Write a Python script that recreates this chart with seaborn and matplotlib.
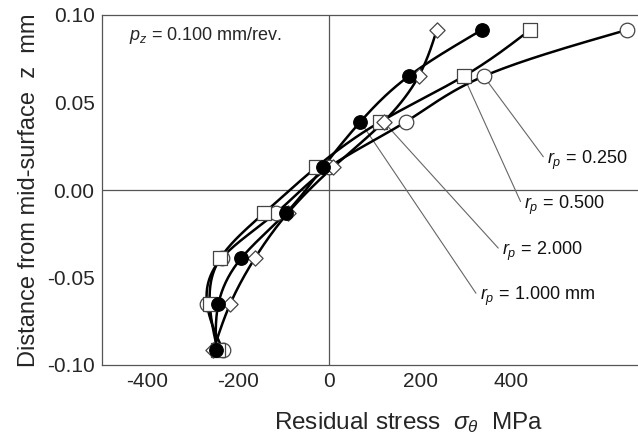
# RESIDUAL STRESS PROFILES THROUGH THE THICKNESS

import numpy as np
import pandas as pd
import matplotlib
matplotlib.use('Agg')
import matplotlib.pyplot as plt
import seaborn as sns


# DATA

z_levels = [-0.0915, -0.065, -0.039, -0.013, 0.013, 0.039, 0.065, 0.0915]

stress_r0250 = [-233, -268, -236, -116, 0, 169, 340, 655]
stress_r0500 = [-245, -262, -239, -142, -28, 113, 296, 442]
stress_r1000 = [-248, -243, -193, -94, -13, 69, 175, 336]
stress_r2000 = [-254, -217, -163, -90, 9, 120, 197, 237]

series_names = ['0.250', '0.500', '1.000', '2.000']
label_texts = ['$r_p$ = 0.250', '$r_p$ = 0.500', '$r_p$ = 1.000 mm', '$r_p$ = 2.000']

# leader line: (marker index it starts from, label anchor x, label anchor z)
leader_from = [6, 6, 5, 5]
label_x = [479, 429, 331, 380]
label_z = [0.017, -0.0086, -0.061, -0.0352]


# SMOOTH CURVE THROUGH THE POINTS (natural cubic spline, x as function of z)

def natural_spline(zk, xk, n=200):
    zk = np.asarray(zk, float)
    xk = np.asarray(xk, float)
    m = len(zk)
    h = np.diff(zk)
    A = np.zeros((m, m))
    b = np.zeros(m)
    A[0, 0] = A[-1, -1] = 1
    for i in range(1, m - 1):
        A[i, i - 1] = h[i - 1]
        A[i, i] = 2 * (h[i - 1] + h[i])
        A[i, i + 1] = h[i]
        b[i] = 6 * ((xk[i + 1] - xk[i]) / h[i] - (xk[i] - xk[i - 1]) / h[i - 1])
    M = np.linalg.solve(A, b)
    zz = np.linspace(zk[0], zk[-1], n)
    idx = np.clip(np.searchsorted(zk, zz) - 1, 0, m - 2)
    z0, z1 = zk[idx], zk[idx + 1]
    hh = z1 - z0
    t1 = (z1 - zz)
    t0 = (zz - z0)
    xx = (M[idx] * t1**3 + M[idx + 1] * t0**3) / (6 * hh) \
        + (xk[idx] / hh - M[idx] * hh / 6) * t1 \
        + (xk[idx + 1] / hh - M[idx + 1] * hh / 6) * t0
    return xx, zz


# STYLE

sns.set_style('white')
plt.rcParams['font.family'] = ['Liberation Sans', 'DejaVu Sans']
plt.rcParams['mathtext.fontset'] = 'custom'
plt.rcParams['mathtext.rm'] = 'Liberation Sans'
plt.rcParams['mathtext.it'] = 'Liberation Sans:italic'

fig = plt.figure(figsize=(6.38, 4.38), dpi=100)
ax = fig.add_axes([101.5 / 638, 73 / 438, 546 / 638, 350 / 438])

axis_gray = '#555555'

ax.axhline(0, color=axis_gray, lw=0.9, zorder=1)
ax.axvline(0, color=axis_gray, lw=0.9, zorder=1)

all_stress = [stress_r0250, stress_r0500, stress_r1000, stress_r2000]

# leader lines
for k, s in enumerate(all_stress):
    i = leader_from[k]
    ax.plot([s[i], label_x[k] - 8], [z_levels[i], label_z[k] + 0.002],
            color='#666666', lw=0.8, zorder=2)
    ax.text(label_x[k], label_z[k], label_texts[k], fontsize=13,
            ha='left', va='center', color='#111111')

# smooth curves
for k, s in enumerate(all_stress):
    xx, zz = natural_spline(z_levels, s)
    curve = pd.DataFrame({'stress': xx, 'z': zz})
    sns.lineplot(data=curve, x='stress', y='z', sort=False, color='black',
                 lw=1.8, ax=ax, zorder=3)

# markers
marker_style = {
    '0.250': dict(marker='o', facecolor='white', edgecolor='#444444', s=110),
    '0.500': dict(marker='s', facecolor='white', edgecolor='#444444', s=95),
    '2.000': dict(marker='D', facecolor='white', edgecolor='#444444', s=60),
    '1.000': dict(marker='o', facecolor='black', edgecolor='black', s=95),
}
for name in ['0.250', '0.500', '2.000', '1.000']:
    s = all_stress[series_names.index(name)]
    pts = pd.DataFrame({'stress': s, 'z': z_levels})
    st = marker_style[name]
    sns.scatterplot(data=pts, x='stress', y='z', marker=st['marker'],
                    color=st['facecolor'], edgecolor=st['edgecolor'],
                    s=st['s'], linewidth=0.9, ax=ax, zorder=4)

ax.text(-439, 0.0885, '$p_z$ = 0.100 mm/rev.', fontsize=13, ha='left', va='center')


# AXES

ax.set_xlim(-500, 700)
ax.set_ylim(-0.1, 0.1)
ax.set_xticks([-400, -200, 0, 200, 400, 600])
ax.set_xticklabels(['-400', '-200', '0', '200', '400', ''])
ax.set_yticks([-0.1, -0.05, 0, 0.05, 0.1])
ax.set_yticklabels(['-0.10', '-0.05', '0.00', '0.05', '0.10'])
ax.tick_params(direction='in', length=7, width=0.9, color=axis_gray,
               labelsize=15, pad=5)
ax.tick_params(axis='y', pad=5)
for sp in ax.spines.values():
    sp.set_color(axis_gray)
    sp.set_linewidth(0.9)

ax.set_xlabel('Residual stress  $\\sigma_\\theta$  MPa', fontsize=17.5, labelpad=14)
ax.xaxis.set_label_coords(0.563, -0.13)
ax.set_ylabel('Distance from mid-surface  z  mm', fontsize=17, labelpad=5)

fig.savefig('out.png', dpi=100)
